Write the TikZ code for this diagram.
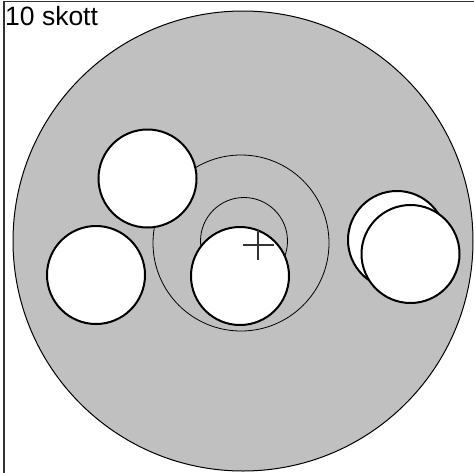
\documentclass[tikz,border=0pt]{standalone}
\usepackage{fontspec}
\setmainfont{Liberation Sans}
\definecolor{target}{HTML}{C0C0C0}
\definecolor{crossc}{HTML}{333333}
\tikzset{
  target/.style={fill=target,draw=black,line width=1pt},
  ring/.style={draw=black,line width=0.8pt},
  shot/.style={fill=white,draw=black,line width=2pt},
  crossline/.style={draw=crossc,line width=1.5pt},
  frameline/.style={draw=black!80,line width=1.5pt},
  label/.style={font=\fontsize{26.5}{30}\selectfont,inner sep=0pt,anchor=base west}
}
\begin{document}
\begin{tikzpicture}[x=1pt,y=-1pt]
\useasboundingbox (0,0) rectangle (474,472);
\fill[white] (0,0) rectangle (474,472);
\draw[frameline] (4,480) -- (4,1.5) -- (480,1.5);
\node[label] (title) at (5,25.5) {10 skott};
\draw[target] (243,241) circle[radius=230];
\draw[ring] (241,243) circle[radius=88];
\draw[ring] (244,241) circle[radius=43.5];
\draw[shot] (147.5,178.5) circle[radius=49];
\draw[shot] (96,275) circle[radius=49];
\draw[shot] (240,276) circle[radius=49];
\draw[shot] (397,240) circle[radius=49];
\draw[shot] (410.5,254) circle[radius=49];
\coordinate (cL) at (243,245);
\coordinate (cR) at (274,245);
\coordinate (cT) at (258,230);
\coordinate (cB) at (258,260);
\draw[crossline] (cL) -- (cR);
\draw[crossline] (cT) -- (cB);
\end{tikzpicture}
\end{document}
